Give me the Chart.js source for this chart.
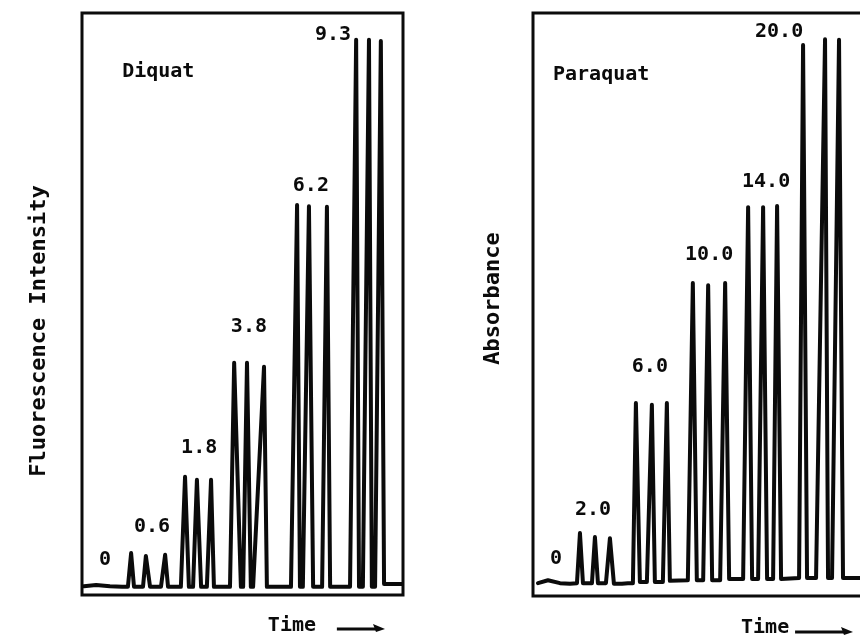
<!DOCTYPE html>
<html>
<head>
<meta charset="utf-8">
<script src="https://cdn.jsdelivr.net/npm/chart.js@4.4.1/dist/chart.umd.min.js"></script>
<style>
  html, body { margin: 0; padding: 0; background: #fff; overflow: hidden; width: 860px; height: 638px; }
  canvas { position: absolute; top: 0; }
  #diquatChart { left: 0; }
  #paraquatChart { left: 450px; }
</style>
</head>
<body>
<canvas id="diquatChart" width="430" height="638"></canvas>
<canvas id="paraquatChart" width="450" height="638"></canvas>
<script>
// 크로마토그램 트레이스 (시간, 신호 - 임의 단위 0~100)
// Diquat : 형광 검출
var diquatTime = [0.6, 4.4, 8.7, 12.5,
	14.3, 15.3, 16.2, 19.0, 19.9, 21.2, 24.6, 25.9, 26.8,
	30.8, 32.1, 33.3, 34.6, 35.8, 37.1, 38.9, 40.2, 41.1,
	46.1, 47.4, 49.5, 50.2, 51.4, 52.6, 53.3, 56.7, 57.6,
	65.1, 67.0, 67.9, 68.8, 70.7, 72.0, 74.8, 76.3, 77.3,
	83.5, 85.4, 86.3, 87.5, 89.4, 90.3, 91.3, 93.1, 94.1, 100];
var diquatSignal = [1.5, 1.7, 1.5, 1.4,
	1.4, 7.2, 1.4, 1.4, 6.7, 1.4, 1.4, 6.9, 1.4,
	1.4, 20.3, 1.4, 1.4, 19.8, 1.4, 1.4, 19.8, 1.4,
	1.4, 39.9, 1.4, 1.4, 39.9, 1.4, 1.4, 39.2, 1.4,
	1.4, 67.0, 1.4, 1.4, 66.8, 1.4, 1.4, 66.7, 1.4,
	1.4, 95.4, 1.4, 1.4, 95.4, 1.4, 1.4, 95.2, 1.9, 1.9];
var diquatLevels = ['0', '0.6', '1.8', '3.8', '6.2', '9.3'];

// Paraquat : 흡광도 검출
var paraquatTime = [1.5, 4.5, 8.1, 11.1,
	13.2, 14.1, 15.0, 17.7, 18.6, 19.5, 21.9, 23.1, 24.3, 26.7, 28.5,
	30.0, 30.9, 32.1, 34.2, 35.7, 36.6, 39.0, 40.2, 41.1,
	46.5, 48.0, 49.2, 51.1, 52.6, 53.8, 56.2, 57.7, 58.9,
	63.1, 64.6, 65.8, 67.6, 69.1, 70.3, 72.1, 73.3, 74.5,
	79.9, 81.1, 82.3, 85.0, 87.7, 88.6, 89.8, 91.9, 93.1, 100];
var paraquatSignal = [2.2, 2.7, 2.2, 2.1,
	2.2, 10.8, 2.2, 2.2, 10.1, 2.2, 2.2, 9.9, 2.1, 2.1, 2.2,
	2.2, 33.1, 2.4, 2.4, 32.8, 2.4, 2.4, 33.1, 2.6,
	2.7, 53.7, 2.7, 2.7, 53.3, 2.7, 2.7, 53.7, 2.9,
	2.9, 66.7, 2.9, 2.9, 66.7, 2.9, 2.9, 66.9, 2.9,
	3.1, 94.5, 3.1, 3.1, 95.5, 3.1, 3.1, 95.4, 3.1, 3.1];
var paraquatLevels = ['0', '2.0', '6.0', '10.0', '14.0', '20.0'];

var INK = '#0b0b0b';
var FONT = '"DejaVu Sans Mono", "Liberation Mono", monospace';

function toPoints(t, s) {
	return t.map(function(v, i) { return {x: v, y: s[i]}; });
}

// 테두리, 라벨, 축 제목 그리는 플러그인
var notesPlugin = {
	id: 'notes',
	afterDraw: function(chart, args, o) {
		var ctx = chart.ctx, a = chart.chartArea;
		var x = chart.scales.x, y = chart.scales.y;
		ctx.save();
		ctx.strokeStyle = INK;
		ctx.fillStyle = INK;
		ctx.lineWidth = 3;
		ctx.strokeRect(a.left, a.top, a.right - a.left, a.bottom - a.top);

		ctx.font = 'bold 20px ' + FONT;
		ctx.textBaseline = 'middle';
		ctx.textAlign = 'left';
		ctx.fillText(o.name, x.getPixelForValue(o.nameAt[0]), y.getPixelForValue(o.nameAt[1]));

		ctx.textAlign = 'center';
		o.levels.forEach(function(s, i) {
			ctx.fillText(s, x.getPixelForValue(o.levelAt[i][0]), y.getPixelForValue(o.levelAt[i][1]));
		});

		// Time ->
		ctx.fillText('Time', x.getPixelForValue(o.timeAt), a.bottom + o.timeGap);
		var x1 = x.getPixelForValue(o.arrow[0]), x2 = x.getPixelForValue(o.arrow[1]);
		var ay = a.bottom + o.arrowGap;
		ctx.beginPath();
		ctx.moveTo(x1, ay);
		ctx.lineTo(x2 - 6, ay);
		ctx.stroke();
		ctx.beginPath();
		ctx.moveTo(x2, ay);
		ctx.lineTo(x2 - 12, ay - 5);
		ctx.lineTo(x2 - 9, ay + 3);
		ctx.closePath();
		ctx.fill();

		// 세로 축 제목
		ctx.translate(a.left - o.titleGap, (a.top + a.bottom) / 2 + o.titleShift);
		ctx.rotate(-Math.PI / 2);
		ctx.font = 'bold 22px ' + FONT;
		ctx.fillText(o.yTitle, 0, 0);
		ctx.restore();
	}
};

function makeChart(id, time, signal, padding, notes) {
	return new Chart(document.getElementById(id), {
		type: 'line',
		data: {
			datasets: [{
				data: toPoints(time, signal),
				borderColor: INK,
				borderWidth: 4,
				pointRadius: 0,
				tension: 0,
				borderJoinStyle: 'round',
				borderCapStyle: 'round'
			}]
		},
		options: {
			responsive: false,
			animation: false,
			layout: {padding: padding},
			scales: {
				x: {type: 'linear', display: false, min: 0, max: 100},
				y: {display: false, min: 0, max: 100}
			},
			plugins: {
				legend: {display: false},
				tooltip: {enabled: false},
				notes: notes
			}
		},
		plugins: [notesPlugin]
	});
}

var diquatChart = makeChart('diquatChart', diquatTime, diquatSignal,
	{left: 82, top: 13, right: 27, bottom: 43},
	{
		name: 'Diquat', nameAt: [12.5, 89.9],
		levels: diquatLevels,
		levelAt: [[7.2, 6.0], [21.8, 11.7], [36.5, 25.3], [52.0, 46.1], [71.3, 70.3], [78.2, 96.2]],
		timeAt: 65.4, timeGap: 31, arrow: [79.4, 94.4], arrowGap: 34,
		yTitle: 'Fluorescence Intensity', titleGap: 43, titleShift: 27
	});

var paraquatChart = makeChart('paraquatChart', paraquatTime, paraquatSignal,
	{left: 83, top: 13, right: 34, bottom: 42},
	{
		name: 'Paraquat', nameAt: [6.0, 89.4],
		levels: paraquatLevels,
		levelAt: [[6.9, 6.4], [18.0, 14.8], [35.1, 39.3], [52.9, 58.5], [70.0, 71.0], [73.9, 96.7]],
		timeAt: 69.7, timeGap: 32, arrow: [78.7, 96.1], arrowGap: 36,
		yTitle: 'Absorbance', titleGap: 40, titleShift: -6
	});
</script>
</body>
</html>
